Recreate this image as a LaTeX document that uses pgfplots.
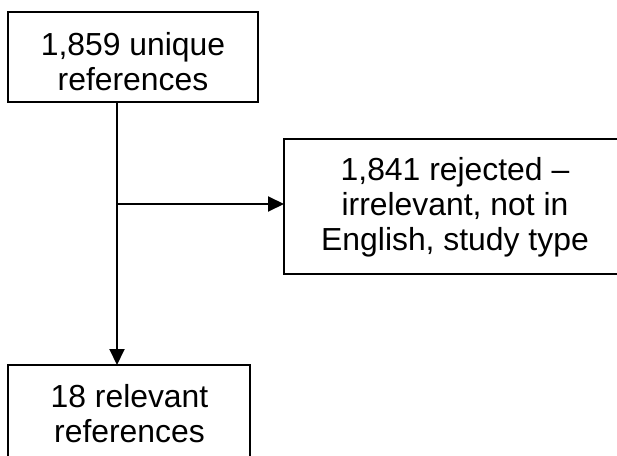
\documentclass[border=0pt]{standalone}
\usepackage{pgfplots}
\pgfplotsset{compat=1.18}
\usepackage{fontspec}
\setmainfont{Liberation Sans}
\usetikzlibrary{arrows.meta}
\begin{document}
\begin{tikzpicture}
\begin{axis}[
  width=617bp, height=456bp, scale only axis,
  xmin=0, xmax=617, ymin=0, ymax=456, y dir=reverse,
  axis lines=none, clip=true,
]
\draw[line width=2bp] (axis cs:8,12) rectangle (axis cs:258,102);
\draw[line width=2bp] (axis cs:284,139) rectangle (axis cs:630,274);
\draw[line width=2bp] (axis cs:8,365) rectangle (axis cs:250,470);
\draw[line width=2bp, -{Triangle[length=16bp,width=15bp]}] (axis cs:117,102) -- (axis cs:117,365);
\draw[line width=2bp, -{Triangle[length=16bp,width=15bp]}] (axis cs:117,204) -- (axis cs:284,204);
\tikzset{lbl/.style={font=\fontsize{32}{34}\selectfont, anchor=base, inner sep=0pt}}
\node[lbl] at (axis cs:133,56) {1,859 unique};
\node[lbl] at (axis cs:133,91) {references};
\node[lbl] at (axis cs:455,180) {1,841 rejected --};
\node[lbl] at (axis cs:455,215) {irrelevant, not in};
\node[lbl] at (axis cs:455,250) {English, study type};
\node[lbl] at (axis cs:129.5,407) {18 relevant};
\node[lbl] at (axis cs:129.5,442) {references};
\end{axis}
\pgfresetboundingbox
\useasboundingbox (0,0) rectangle (617bp,456bp);
\end{tikzpicture}
\end{document}
